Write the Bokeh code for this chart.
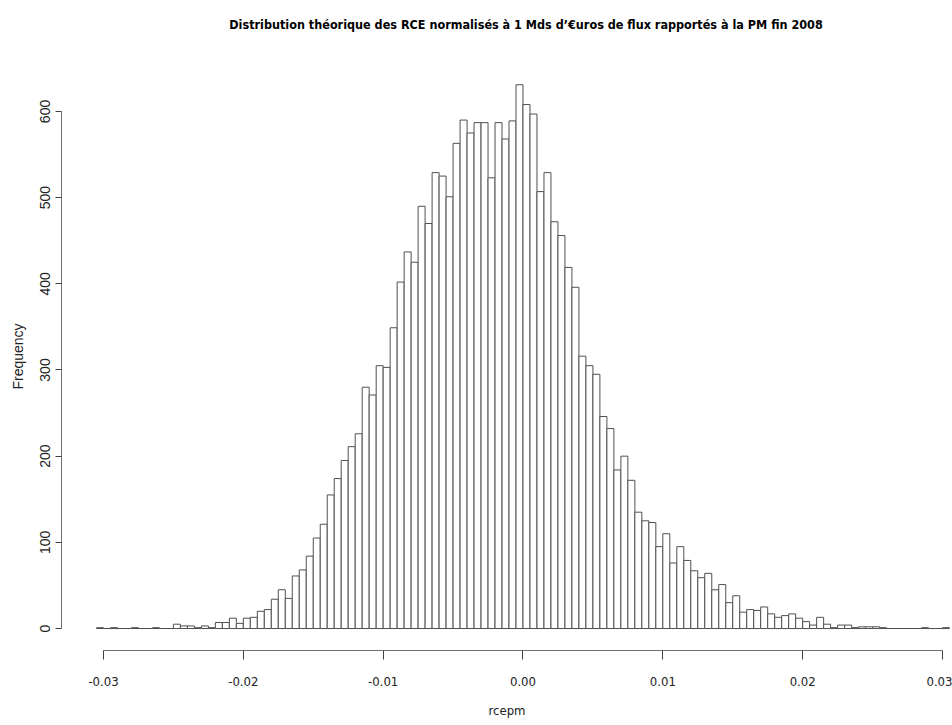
import numpy as np
from bokeh.plotting import figure
from bokeh.models import Range1d, FixedTicker, Div
from bokeh.layouts import column
from bokeh.embed import file_html
from bokeh.resources import INLINE

# ---- data ----
bin_start = -0.0305
bin_width = 0.0005
counts = [
    1, 0, 1, 0, 0, 1, 0, 0, 1, 0,
    0, 5, 3, 3, 1, 3, 1, 7, 7, 12,
    6, 12, 13, 20, 22, 34, 45, 35, 61, 68,
    84, 105, 121, 155, 174, 195, 211, 226, 280, 271,
    305, 303, 349, 402, 437, 425, 490, 470, 529, 525,
    501, 563, 590, 575, 587, 587, 523, 587, 568, 589,
    631, 608, 597, 507, 529, 472, 456, 419, 396, 316,
    305, 295, 246, 232, 184, 200, 172, 135, 125, 123,
    95, 110, 76, 95, 79, 67, 59, 64, 45, 51,
    30, 38, 19, 22, 21, 25, 17, 13, 15, 17,
    12, 8, 4, 13, 5, 1, 4, 4, 1, 2,
    2, 2, 1, 0, 0, 0, 0, 0, 1, 0,
    0, 1,
]
x_ticks = [-0.03, -0.02, -0.01, 0.0, 0.01, 0.02, 0.03]
x_tick_labels = ["-0.03", "-0.02", "-0.01", "0.00", "0.01", "0.02", "0.03"]
y_ticks = [0, 100, 200, 300, 400, 500, 600]
y_tick_labels = ["0", "100", "200", "300", "400", "500", "600"]

title_text = "Distribution théorique des RCE normalisés à 1 Mds d\u2019\u20acuros de flux rapportés à la PM fin 2008"
x_label = "rcepm"
y_label = "Frequency"

# ---- derived ----
n = len(counts)
lefts = np.round(bin_start + bin_width * np.arange(n), 5)
rights = np.round(lefts + bin_width, 5)

NARROW = "'Liberation Sans Narrow', 'DejaVu Sans Condensed', 'Arial Narrow', sans-serif"
SANS = "'Liberation Sans', Arial, sans-serif"

title_div = Div(
    text=title_text, width=952, height=62, margin=0,
    styles={
        "font-family": NARROW, "font-size": "12.5px", "font-weight": "bold",
        "color": "#000000", "text-align": "center",
        "padding-left": "100px", "padding-top": "17px",
        "box-sizing": "border-box", "line-height": "15px",
    },
)

p = figure(
    width=952, height=663, title=None,
    output_backend="svg", toolbar_location=None,
    x_range=Range1d(-0.033004, 0.030716),
    y_range=Range1d(-25.5, 656.8),
    min_border_left=61, min_border_right=0,
    min_border_top=0, min_border_bottom=75,
    margin=0,
)

p.quad(left=lefts, right=rights, bottom=0, top=counts,
       fill_color="white", line_color="#505050", line_width=1)

p.xgrid.visible = False
p.ygrid.visible = False
p.outline_line_color = None
p.background_fill_color = "white"
p.border_fill_color = "white"

xa = p.xaxis[0]
xa.ticker = FixedTicker(ticks=x_ticks)
xa.major_label_overrides = {t: l for t, l in zip(x_ticks, x_tick_labels)}
xa.bounds = (x_ticks[0], x_ticks[-1])
xa.minor_tick_line_color = None
xa.major_tick_in = 0
xa.major_tick_out = 9
xa.axis_line_color = "#707070"
xa.major_tick_line_color = "#404040"
xa.major_label_standoff = 17
xa.major_label_text_font = NARROW
xa.major_label_text_font_size = "13px"
xa.major_label_text_color = "#222222"
xa.axis_label = x_label
xa.axis_label_standoff = 14
xa.axis_label_text_font = NARROW
xa.axis_label_text_font_size = "13px"
xa.axis_label_text_font_style = "normal"
xa.axis_label_text_color = "#222222"

ya = p.yaxis[0]
ya.ticker = FixedTicker(ticks=y_ticks)
ya.major_label_overrides = {t: l for t, l in zip(y_ticks, y_tick_labels)}
ya.bounds = (y_ticks[0], y_ticks[-1])
ya.minor_tick_line_color = None
ya.major_tick_in = 0
ya.major_tick_out = 6
ya.axis_line_color = "#707070"
ya.major_tick_line_color = "#404040"
ya.major_label_orientation = "vertical"
ya.major_label_standoff = 5
ya.major_label_text_font = SANS
ya.major_label_text_font_size = "14px"
ya.major_label_text_color = "#222222"
ya.axis_label = y_label
ya.axis_label_standoff = 12
ya.axis_label_text_font = SANS
ya.axis_label_text_font_size = "14px"
ya.axis_label_text_font_style = "normal"
ya.axis_label_text_color = "#222222"

layout = column(title_div, p, spacing=0, margin=0)
open("out.html", "w").write(file_html(layout, INLINE))
